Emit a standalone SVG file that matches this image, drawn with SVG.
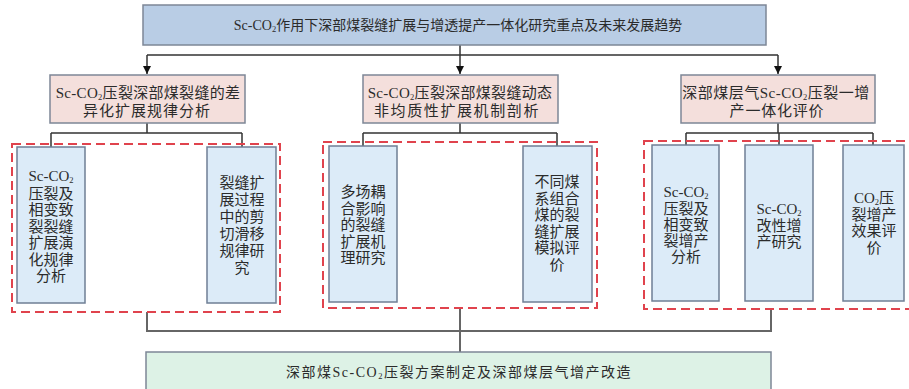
<svg xmlns="http://www.w3.org/2000/svg" width="909" height="389" viewBox="0 0 909 389">
<defs>
<style>
text{font-family:"Liberation Serif","Noto Sans CJK SC",serif;fill:#2b2b2b;text-anchor:middle}
.t14{font-size:14px}
.t15{font-size:15px}
.sub{font-size:8.5px}
.top{fill:#b9cde5;stroke:#7d8796;stroke-width:1.5}
.pink{fill:#f4dfdc;stroke:#7d8796;stroke-width:1.5}
.child{fill:#dcebf8;stroke:#6f7f95;stroke-width:1.5}
.green{fill:#ddf2e6;stroke:#7d8796;stroke-width:1.5}
.dash{fill:none;stroke:#e0434d;stroke-width:2;stroke-dasharray:9 5}
.conn{fill:none;stroke:#333;stroke-width:1.5}
.conn2{fill:none;stroke:#666;stroke-width:2}
</style>
<marker id="arr" viewBox="0 0 10 10" refX="10" refY="5" markerWidth="8" markerHeight="8" markerUnits="userSpaceOnUse" orient="auto">
<path d="M0,0 L10,5 L0,10 z" fill="#111"/>
</marker>
</defs>

<g id="connectors">
<path class="conn" d="M460,45 V55 M147,55 H778"/>
<path class="conn" d="M147,55 V74" marker-end="url(#arr)"/>
<path class="conn" d="M460,55 V74" marker-end="url(#arr)"/>
<path class="conn" d="M778,55 V74" marker-end="url(#arr)"/>
<path class="conn" d="M147,123 V133 M51,133 H242 M51,133 V147 M242,133 V147"/>
<path class="conn" d="M460,123 V133 M363,133 H557 M363,133 V146 M557,133 V146"/>
<path class="conn" d="M778,123 V133 M686,133 H873 M686,133 V145 M779,133 V145 M873,133 V145"/>
<path class="conn2" d="M147,312 V331 H771 V309 M460,308 V352"/>
</g>

<g id="dash-groups">
<rect class="dash" x="12" y="144" width="268" height="168"/>
<rect class="dash" x="323" y="142" width="274" height="166"/>
<rect class="dash" x="644" y="141" width="275" height="168"/>
</g>

<g id="top">
<rect class="top" x="143" y="5" width="623" height="40"/>
<text class="t14" x="458" y="30">Sc-CO<tspan class="sub" dy="2">2</tspan><tspan dy="-2">作用下深部煤裂缝扩展与增透提产一体化研究重点及未来发展趋势</tspan></text>
</g>

<g id="p1">
<rect class="pink" x="50" y="75" width="195" height="48"/>
<text class="t15" x="148" y="98" letter-spacing="0.3">Sc-CO<tspan class="sub" dy="2">2</tspan><tspan dy="-2">压裂深部煤裂缝的差</tspan></text>
<text class="t15" x="147" y="116" letter-spacing="1">异化扩展规律分析</text>
</g>

<g id="p2">
<rect class="pink" x="363" y="75" width="195" height="48"/>
<text class="t15" x="460" y="98" letter-spacing="0.3">Sc-CO<tspan class="sub" dy="2">2</tspan><tspan dy="-2">压裂深部煤裂缝动态</tspan></text>
<text class="t15" x="457" y="116" letter-spacing="1.6">非均质性扩展机制剖析</text>
</g>

<g id="p3">
<rect class="pink" x="681" y="75" width="194" height="48"/>
<text class="t15" x="776" y="98" letter-spacing="0.5">深部煤层气Sc-CO<tspan class="sub" dy="2">2</tspan><tspan dy="-2">压裂一增</tspan></text>
<text class="t15" x="777" y="116" letter-spacing="0.8">产一体化评价</text>
</g>

<g id="c1">
<rect class="child" x="17" y="147" width="68" height="156"/>
<text class="t15"><tspan x="51" y="181">Sc-CO<tspan class="sub" dy="1.5">2</tspan></tspan><tspan x="51" y="198.5">压裂及</tspan><tspan x="51" y="215">相变致</tspan><tspan x="51" y="231.5">裂裂缝</tspan><tspan x="51" y="248">扩展演</tspan><tspan x="51" y="264.5">化规律</tspan><tspan x="51" y="281">分析</tspan></text>
</g>

<g id="c2">
<rect class="child" x="207" y="147" width="69" height="156"/>
<text class="t15"><tspan x="242" y="188">裂缝扩</tspan><tspan x="242" y="205">展过程</tspan><tspan x="242" y="222">中的剪</tspan><tspan x="242" y="239">切滑移</tspan><tspan x="242" y="256">规律研</tspan><tspan x="242" y="273">究</tspan></text>
</g>

<g id="c3">
<rect class="child" x="329" y="146" width="68" height="156"/>
<text class="t15"><tspan x="363" y="197">多场耦</tspan><tspan x="363" y="213.5">合影响</tspan><tspan x="363" y="230">的裂缝</tspan><tspan x="363" y="246.5">扩展机</tspan><tspan x="363" y="263">理研究</tspan></text>
</g>

<g id="c4">
<rect class="child" x="523" y="146" width="69" height="156"/>
<text class="t15"><tspan x="557" y="187">不同煤</tspan><tspan x="557" y="203.5">系组合</tspan><tspan x="557" y="220">煤的裂</tspan><tspan x="557" y="236.5">缝扩展</tspan><tspan x="557" y="253">模拟评</tspan><tspan x="557" y="269.5">价</tspan></text>
</g>

<g id="c5">
<rect class="child" x="652" y="145" width="67" height="156"/>
<text class="t15"><tspan x="686" y="197">Sc-CO<tspan class="sub" dy="1.5">2</tspan></tspan><tspan x="686" y="214">压裂及</tspan><tspan x="686" y="230">相变致</tspan><tspan x="686" y="246">裂增产</tspan><tspan x="686" y="262">分析</tspan></text>
</g>

<g id="c6">
<rect class="child" x="745" y="145" width="68" height="156"/>
<text class="t15"><tspan x="779" y="214">Sc-CO<tspan class="sub" dy="1.5">2</tspan></tspan><tspan x="779" y="231">改性增</tspan><tspan x="779" y="246.5">产研究</tspan></text>
</g>

<g id="c7">
<rect class="child" x="843" y="145" width="61" height="156"/>
<text class="t15"><tspan x="874" y="203">CO<tspan class="sub" dy="2">2</tspan><tspan dy="-2">压</tspan></tspan><tspan x="874" y="219.5">裂增产</tspan><tspan x="874" y="236">效果评</tspan><tspan x="874" y="252.5">价</tspan></text>
</g>

<g id="bottom">
<rect class="green" x="146" y="352" width="625" height="45"/>
<text class="t14" x="459" y="377" letter-spacing="1.5">深部煤Sc-CO<tspan class="sub" dy="2">2</tspan><tspan dy="-2">压裂方案制定及深部煤层气增产改造</tspan></text>
</g>
</svg>
